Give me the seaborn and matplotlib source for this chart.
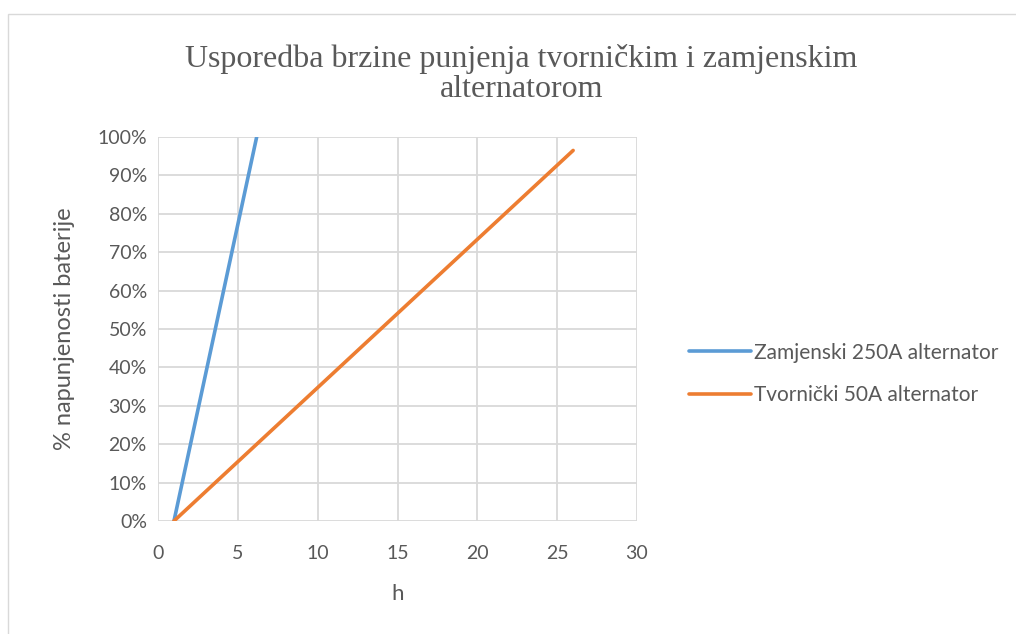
import matplotlib
matplotlib.use("Agg")
import matplotlib.pyplot as plt
import matplotlib.patches as patches
from matplotlib.ticker import PercentFormatter
import pandas as pd
import seaborn as sns

# values
hours_250 = [1, 6.18]
charge_250 = [0.0, 1.0]
hours_50 = [1, 26]
charge_50 = [0.0, 0.965]
series_names = ["Zamjenski 250A alternator", "Tvornički 50A alternator"]
colors = ["#5b9bd5", "#ed7d31"]

df = pd.concat([
    pd.DataFrame({"h": hours_250, "pct": charge_250, "serija": series_names[0]}),
    pd.DataFrame({"h": hours_50, "pct": charge_50, "serija": series_names[1]}),
])

sns.set_style("white")
plt.rcParams["font.family"] = ["Lato", "DejaVu Sans"]
txt = "#595959"

fig = plt.figure(figsize=(10.16, 6.34), dpi=100)
fig.patches.append(patches.Rectangle((8 / 1016, -0.01), 1.1, 1 - 14 / 634 + 0.01,
                                     transform=fig.transFigure, fill=False,
                                     edgecolor="#d9d9d9", linewidth=1))
ax = fig.add_axes([158 / 1016, 1 - 521 / 634, (637 - 158) / 1016, (521 - 137) / 634])

sns.lineplot(data=df, x="h", y="pct", hue="serija", palette=colors,
             linewidth=2.6, ax=ax, legend=False, estimator=None, sort=False)

ax.set_xlim(0, 30)
ax.set_ylim(0, 1.0)
ax.set_xticks(range(0, 31, 5))
ax.set_yticks([i / 10 for i in range(11)])
ax.yaxis.set_major_formatter(PercentFormatter(1.0, decimals=0))
ax.grid(True, color="#d9d9d9", linewidth=1.3)
ax.set_axisbelow(True)
for s in ax.spines.values():
    s.set_visible(False)
ax.tick_params(axis="both", labelsize=14, colors=txt, length=0)
ax.tick_params(axis="x", pad=17)
ax.tick_params(axis="y", pad=8)
ax.set_xlabel("h", fontsize=16, color=txt, labelpad=16)
ax.set_ylabel("% napunjenosti baterije", fontsize=17, color=txt, labelpad=16)

fig.text(0.513, 0.883, "Usporedba brzine punjenja tvorničkim i zamjenskim\nalternatorom",
         ha="center", va="center", fontsize=23, color=txt,
         family=["Liberation Serif", "DejaVu Serif"], linespacing=1.05)

handles = [plt.Line2D([], [], color=c, linewidth=2.6) for c in colors]
fig.legend(handles, series_names, loc="center left", bbox_to_anchor=(670 / 1016, 1 - 374 / 634),
           frameon=False, fontsize=15, handlelength=3.0, handletextpad=0.15,
           labelspacing=1.1, labelcolor=txt)

fig.savefig("out.png", dpi=100)
